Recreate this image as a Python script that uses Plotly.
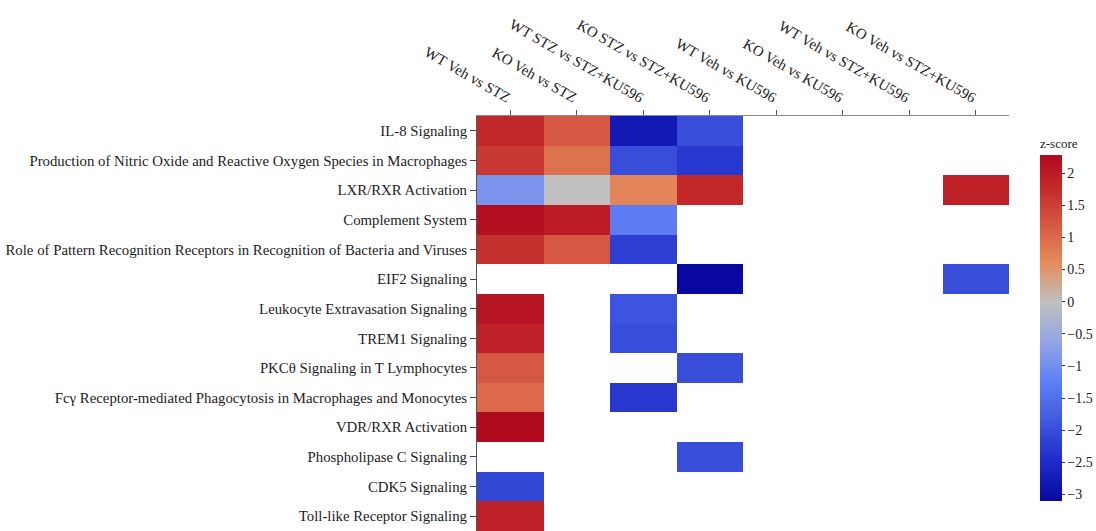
import plotly.graph_objects as go

# Comparisons (columns) and canonical pathways (rows)
comparisons = [
    "WT Veh vs STZ",
    "KO Veh vs STZ",
    "WT STZ vs STZ+KU596",
    "KO STZ vs STZ+KU596",
    "WT Veh vs KU596",
    "KO Veh vs KU596",
    "WT Veh vs STZ+KU596",
    "KO Veh vs STZ+KU596",
]

pathways = [
    "IL-8 Signaling",
    "Production of Nitric Oxide and Reactive Oxygen Species in Macrophages",
    "LXR/RXR Activation",
    "Complement System",
    "Role of Pattern Recognition Receptors in Recognition of Bacteria and Viruses",
    "EIF2 Signaling",
    "Leukocyte Extravasation Signaling",
    "TREM1 Signaling",
    "PKCθ Signaling in T Lymphocytes",
    "Fcγ Receptor-mediated Phagocytosis in Macrophages and Monocytes",
    "VDR/RXR Activation",
    "Phospholipase C Signaling",
    "CDK5 Signaling",
    "Toll-like Receptor Signaling",
]

N = None
# z-scores per comparison (one list per column, ordered as pathways)
wt_veh_vs_stz        = [1.8, 1.6, -0.9, 2.2, 1.7, N, 2.1, 1.9, 1.2, 1.0, 2.28, N, -2.1, 1.9]
ko_veh_vs_stz        = [1.2, 0.9, 0.0, 2.0, 1.2, N, N, N, N, N, N, N, N, N]
wt_stz_vs_stz_ku596  = [-2.8, -2.0, 0.7, -1.3, -2.2, N, -1.9, -2.0, N, -2.3, N, N, N, N]
ko_stz_vs_stz_ku596  = [-2.0, -2.3, 1.8, N, N, -3.1, N, N, -2.0, N, N, -2.0, N, N]
wt_veh_vs_ku596      = [N] * 14
ko_veh_vs_ku596      = [N] * 14
wt_veh_vs_stz_ku596  = [N] * 14
ko_veh_vs_stz_ku596  = [N, N, 1.9, N, N, -2.0, N, N, N, N, N, N, N, N]

columns = [
    wt_veh_vs_stz, ko_veh_vs_stz, wt_stz_vs_stz_ku596, ko_stz_vs_stz_ku596,
    wt_veh_vs_ku596, ko_veh_vs_ku596, wt_veh_vs_stz_ku596, ko_veh_vs_stz_ku596,
]
z = [[col[i] for col in columns] for i in range(len(pathways))]

zmin, zmax = -3.1, 2.28

# Diverging blue-gray-red palette anchored on z-score values
anchors = [
    (-3.1, "rgb(8,8,160)"),
    (-2.5, "rgb(30,42,200)"),
    (-1.8, "rgb(66,92,226)"),
    (-1.2, "rgb(98,130,246)"),
    (-0.6, "rgb(150,166,226)"),
    (0.0, "rgb(192,192,192)"),
    (0.6, "rgb(228,140,92)"),
    (1.2, "rgb(214,88,66)"),
    (1.8, "rgb(194,40,42)"),
    (2.28, "rgb(176,10,30)"),
]
colorscale = [[(v - zmin) / (zmax - zmin), c] for v, c in anchors]

serif = "Liberation Serif"

# plot area in pixels: x 477..1009, y 116..531
fig = go.Figure(
    go.Heatmap(
        z=z,
        x=comparisons,
        y=pathways,
        zmin=zmin,
        zmax=zmax,
        colorscale=colorscale,
        hoverongaps=False,
        colorbar=dict(
            title=dict(text="z-score", side="top", font=dict(family=serif, size=13, color="#222")),
            x=(1040 - 477) / 532,
            xanchor="left",
            xpad=0,
            y=(531 - 135) / 415,
            yanchor="top",
            ypad=0,
            len=(501 - 135) / 415,
            lenmode="fraction",
            thickness=22,
            outlinewidth=0,
            tickvals=[-3, -2.5, -2, -1.5, -1, -0.5, 0, 0.5, 1, 1.5, 2],
            ticktext=["−3", "−2.5", "−2", "−1.5", "−1", "−0.5", "0", "0.5", "1", "1.5", "2"],
            ticks="outside",
            ticklen=3,
            tickcolor="#333",
            tickfont=dict(family=serif, size=14, color="#222"),
        ),
    )
)

fig.update_xaxes(
    side="top",
    tickangle=30,
    ticks="outside",
    ticklen=5,
    tickcolor="#555",
    showline=True,
    linecolor="#888",
    linewidth=1,
    showgrid=False,
    tickfont=dict(family=serif, size=14.8, color="#222"),
)
fig.update_yaxes(
    autorange="reversed",
    ticks="outside",
    ticklen=6,
    tickcolor="#444",
    showline=True,
    linecolor="#555",
    linewidth=1,
    showgrid=False,
    tickfont=dict(family=serif, size=14.8, color="#222"),
)

fig.update_layout(
    width=1096,
    height=531,
    margin=dict(l=477, r=87, t=116, b=0),
    plot_bgcolor="white",
    paper_bgcolor="white",
)

fig.write_html("out.html")
